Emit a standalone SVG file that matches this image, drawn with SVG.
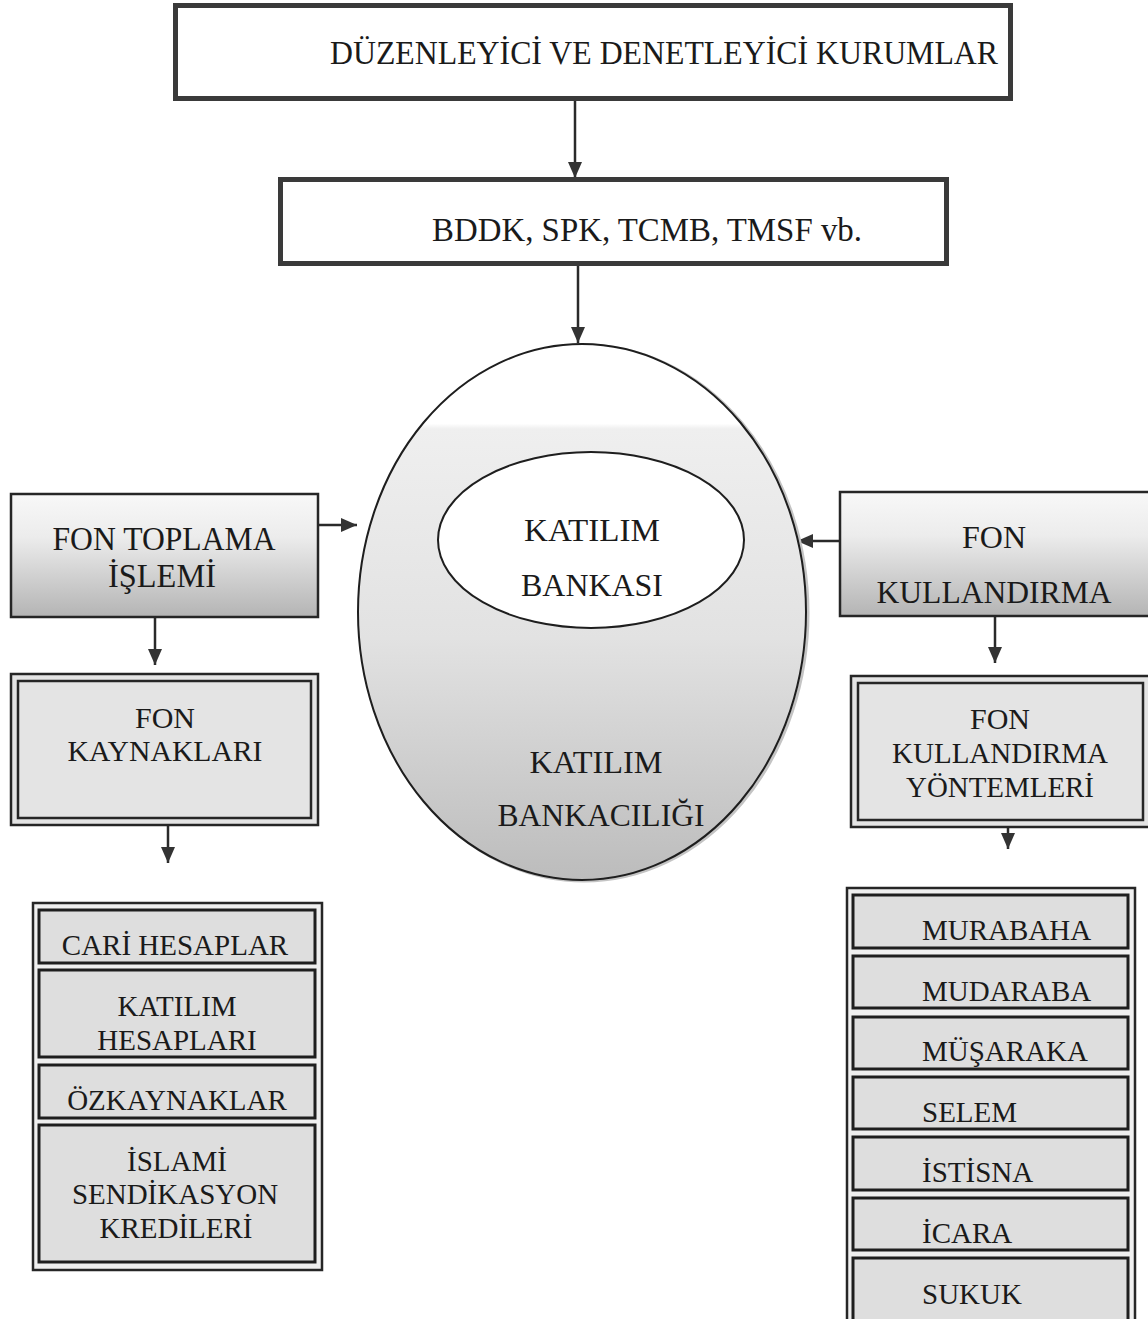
<svg xmlns="http://www.w3.org/2000/svg" width="1148" height="1319" viewBox="0 0 1148 1319">
  <defs>
    <style>
      text { font-family: "Liberation Serif", "Times New Roman", serif; fill: #1a1a1a; text-anchor: middle; }
      .left { text-anchor: start; }
      .frame { fill: #ffffff; stroke: #3a3a3a; stroke-width: 5; }
      .shade { stroke: #262626; stroke-width: 2.5; }
      .plain { fill: #e4e4e4; stroke: #262626; stroke-width: 2.5; }
      .item { fill: #dedede; stroke: #1e1e1e; stroke-width: 3; }
      .holder { fill: #efefef; stroke: #262626; stroke-width: 2.5; }
      .link { stroke: #2a2a2a; stroke-width: 2.5; fill: none; marker-end: url(#head); }
      .list { font-size: 29px; }
    </style>
    <linearGradient id="boxShade" x1="0" y1="0" x2="0" y2="1">
      <stop offset="0" stop-color="#f8f8f8"/>
      <stop offset="0.35" stop-color="#ececec"/>
      <stop offset="1" stop-color="#b4b4b4"/>
    </linearGradient>
    <linearGradient id="ovalShade" gradientUnits="userSpaceOnUse" x1="0" y1="343" x2="0" y2="880">
      <stop offset="0" stop-color="#ffffff"/>
      <stop offset="0.15" stop-color="#ffffff"/>
      <stop offset="0.16" stop-color="#efefef"/>
      <stop offset="0.55" stop-color="#e2e2e2"/>
      <stop offset="1" stop-color="#bcbcbc"/>
    </linearGradient>
    <marker id="head" viewBox="0 0 16 14" refX="16" refY="7" markerWidth="16" markerHeight="14" markerUnits="userSpaceOnUse" orient="auto">
      <path d="M0,0 L16,7 L0,14 Z" fill="#333333"/>
    </marker>
  </defs>

  <!-- connectors -->
  <g id="connectors">
    <line class="link" x1="575" y1="101" x2="575" y2="178"/>
    <line class="link" x1="578" y1="266" x2="578" y2="343"/>
    <line class="link" x1="318" y1="525" x2="357" y2="525"/>
    <line class="link" x1="840" y1="541" x2="797" y2="541"/>
    <line class="link" x1="155" y1="618" x2="155" y2="665"/>
    <line class="link" x1="995" y1="616" x2="995" y2="663"/>
    <line class="link" x1="168" y1="825" x2="168" y2="863"/>
    <line class="link" x1="1008" y1="827" x2="1008" y2="849"/>
  </g>

  <!-- regulators -->
  <g id="node-regulators">
    <rect class="frame" x="175.5" y="5.5" width="835" height="93"/>
    <text x="664" y="64" font-size="33" textLength="668" lengthAdjust="spacingAndGlyphs">DÜZENLEYİCİ VE DENETLEYİCİ KURUMLAR</text>
  </g>

  <g id="node-institutions">
    <rect class="frame" x="280.5" y="179.5" width="666" height="84"/>
    <text x="647" y="241" font-size="33" textLength="430" lengthAdjust="spacingAndGlyphs">BDDK, SPK, TCMB, TMSF vb.</text>
  </g>

  <!-- participation banking oval -->
  <g id="node-banking">
    <ellipse cx="584" cy="613" rx="224" ry="268" fill="none" stroke="#c4c4c4" stroke-width="3"/>
    <ellipse cx="582" cy="612" rx="224" ry="268" fill="url(#ovalShade)" stroke="#1e1e1e" stroke-width="2"/>
    <text x="596" y="773" font-size="32" textLength="133" lengthAdjust="spacingAndGlyphs">KATILIM</text>
    <text x="601" y="826" font-size="32" textLength="207" lengthAdjust="spacingAndGlyphs">BANKACILIĞI</text>
  </g>

  <g id="node-bank">
    <ellipse cx="591" cy="540" rx="153" ry="88" fill="#ffffff" stroke="#1e1e1e" stroke-width="2"/>
    <text x="592" y="541" font-size="32" textLength="136" lengthAdjust="spacingAndGlyphs">KATILIM</text>
    <text x="592" y="596" font-size="32" textLength="142" lengthAdjust="spacingAndGlyphs">BANKASI</text>
  </g>

  <!-- fund collection side -->
  <g id="node-collection">
    <rect class="shade" x="11" y="494" width="307" height="123" fill="url(#boxShade)"/>
    <text x="164" y="550" font-size="33" textLength="223" lengthAdjust="spacingAndGlyphs">FON TOPLAMA</text>
    <text x="162" y="587" font-size="33" textLength="108" lengthAdjust="spacingAndGlyphs">İŞLEMİ</text>
  </g>

  <g id="node-sources">
    <rect class="plain" x="11" y="674" width="307" height="151"/>
    <rect class="plain" x="18" y="681" width="293" height="137"/>
    <text x="165" y="728" font-size="30">FON</text>
    <text x="165" y="761" font-size="30" textLength="195" lengthAdjust="spacingAndGlyphs">KAYNAKLARI</text>
  </g>

  <g id="node-source-list">
    <rect class="holder" x="33" y="903" width="289" height="367"/>
  </g>
  <g id="node-current-accounts">
    <rect class="item" x="39" y="910" width="276" height="53"/>
    <text class="list" x="175" y="955">CARİ HESAPLAR</text>
  </g>
  <g id="node-participation-accounts">
    <rect class="item" x="39" y="970" width="276" height="87"/>
    <text class="list" x="177" y="1016">KATILIM</text>
    <text class="list" x="177" y="1050">HESAPLARI</text>
  </g>
  <g id="node-equity">
    <rect class="item" x="39" y="1065" width="276" height="53"/>
    <text class="list" x="177" y="1110">ÖZKAYNAKLAR</text>
  </g>
  <g id="node-syndication">
    <rect class="item" x="39" y="1125" width="276" height="137"/>
    <text class="list" x="177" y="1171">İSLAMİ</text>
    <text class="list" x="175" y="1204">SENDİKASYON</text>
    <text class="list" x="176" y="1238">KREDİLERİ</text>
  </g>

  <!-- fund utilisation side -->
  <g id="node-utilisation">
    <rect class="shade" x="840" y="492" width="312" height="124" fill="url(#boxShade)"/>
    <text x="994" y="548" font-size="32">FON</text>
    <text x="994" y="603" font-size="32" textLength="235" lengthAdjust="spacingAndGlyphs">KULLANDIRMA</text>
  </g>

  <g id="node-methods">
    <rect class="plain" x="851" y="676" width="300" height="151"/>
    <rect class="plain" x="858" y="683" width="285" height="137"/>
    <text x="1000" y="729" font-size="30">FON</text>
    <text x="1000" y="763" font-size="30" textLength="216" lengthAdjust="spacingAndGlyphs">KULLANDIRMA</text>
    <text x="1000" y="797" font-size="30" textLength="188" lengthAdjust="spacingAndGlyphs">YÖNTEMLERİ</text>
  </g>

  <g id="node-method-list">
    <rect class="holder" x="847" y="888" width="288" height="440"/>
  </g>
  <g id="node-murabaha">
    <rect class="item" x="853" y="895" width="275" height="53"/>
    <text class="list left" x="922" y="940">MURABAHA</text>
  </g>
  <g id="node-mudaraba">
    <rect class="item" x="853" y="956" width="275" height="52"/>
    <text class="list left" x="922" y="1001">MUDARABA</text>
  </g>
  <g id="node-musaraka">
    <rect class="item" x="853" y="1017" width="275" height="52"/>
    <text class="list left" x="922" y="1061">MÜŞARAKA</text>
  </g>
  <g id="node-selem">
    <rect class="item" x="853" y="1077" width="275" height="52"/>
    <text class="list left" x="922" y="1122">SELEM</text>
  </g>
  <g id="node-istisna">
    <rect class="item" x="853" y="1137" width="275" height="53"/>
    <text class="list left" x="922" y="1182">İSTİSNA</text>
  </g>
  <g id="node-icara">
    <rect class="item" x="853" y="1198" width="275" height="52"/>
    <text class="list left" x="922" y="1243">İCARA</text>
  </g>
  <g id="node-sukuk">
    <rect class="item" x="853" y="1258" width="275" height="70"/>
    <text class="list left" x="922" y="1304">SUKUK</text>
  </g>
</svg>
